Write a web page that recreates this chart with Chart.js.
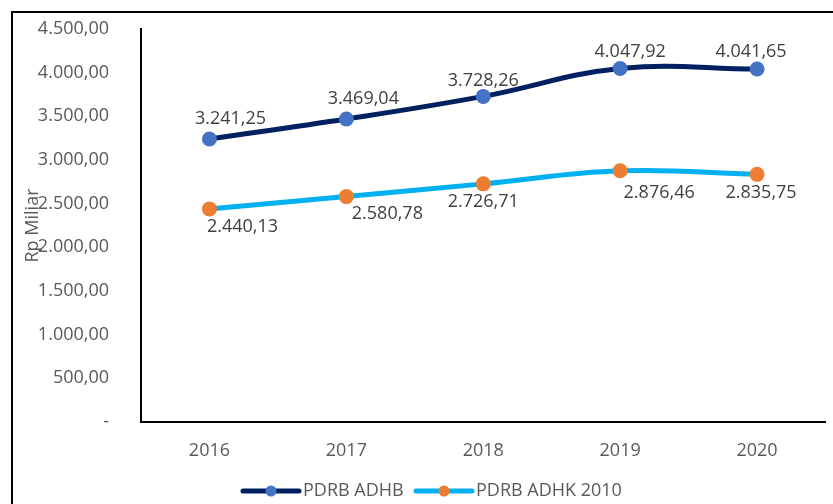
<!DOCTYPE html>
<html>
<head>
<meta charset="utf-8">
<script src="https://cdn.jsdelivr.net/npm/chart.js@4/dist/chart.umd.min.js"></script>
<style>
  html, body { margin: 0; padding: 0; background: #fff; }
  #wrap { width: 833px; height: 504px; }
</style>
</head>
<body>
<div id="wrap"><canvas id="c" width="833" height="504"></canvas></div>
<script>
const years = ['2016', '2017', '2018', '2019', '2020'];
const adhb = [3241.25, 3469.04, 3728.26, 4047.92, 4041.65];
const adhk = [2440.13, 2580.78, 2726.71, 2876.46, 2835.75];
const seriesNames = ['PDRB ADHB', 'PDRB ADHK 2010'];

// where Excel put each data label, relative to its point
const labelShift = [
  [[21, -20], [17, -20], [0, -16], [10, -17], [-6, -17]],
  [[33, 18], [41, 17], [0, 18], [39, 22], [4, 19]]
];

const FONT = '"Open Sans", "Liberation Sans", sans-serif';

function fmt(v) {
  if (v === 0) return '-';
  const parts = v.toFixed(2).split('.');
  return parts[0].replace(/\B(?=(\d{3})+(?!\d))/g, '.') + ',' + parts[1];
}

const extras = {
  id: 'extras',
  beforeDraw(chart) {
    const ctx = chart.ctx;
    ctx.save();
    ctx.strokeStyle = '#000';
    ctx.lineWidth = 2;
    ctx.beginPath();
    ctx.moveTo(12, 510);
    ctx.lineTo(12, 12);
    ctx.lineTo(840, 12);
    ctx.stroke();
    ctx.restore();
  },
  afterDatasetsDraw(chart) {
    const ctx = chart.ctx;
    ctx.save();
    ctx.font = '18px ' + FONT;
    ctx.fillStyle = '#404040';
    ctx.textAlign = 'center';
    ctx.textBaseline = 'middle';
    chart.data.datasets.forEach((ds, di) => {
      chart.getDatasetMeta(di).data.forEach((pt, i) => {
        const s = labelShift[di][i];
        ctx.fillText(fmt(ds.data[i]), pt.x + s[0], pt.y + s[1]);
      });
    });

    // legend
    const items = [
      { x: 243, ds: chart.data.datasets[0] },
      { x: 416, ds: chart.data.datasets[1] }
    ];
    const y = 491;
    ctx.textAlign = 'left';
    items.forEach(it => {
      ctx.strokeStyle = it.ds.borderColor;
      ctx.lineWidth = 5;
      ctx.lineCap = 'round';
      ctx.beginPath();
      ctx.moveTo(it.x, y);
      ctx.lineTo(it.x + 56, y);
      ctx.stroke();
      ctx.fillStyle = it.ds.pointBackgroundColor;
      ctx.beginPath();
      ctx.arc(it.x + 28, y, 5.5, 0, Math.PI * 2);
      ctx.fill();
      ctx.fillStyle = '#595959';
      ctx.fillText(it.ds.label, it.x + 60, y);
    });
    ctx.restore();
  }
};

new Chart(document.getElementById('c').getContext('2d'), {
  type: 'line',
  data: {
    labels: years,
    datasets: [
      {
        label: seriesNames[0],
        data: adhb,
        borderColor: '#002060',
        borderWidth: 5,
        pointBackgroundColor: '#4472C4',
        pointBorderColor: '#4472C4',
        pointBorderWidth: 0,
        pointRadius: 7.5,
        tension: 0.4
      },
      {
        label: seriesNames[1],
        data: adhk,
        borderColor: '#00B0F0',
        borderWidth: 5,
        pointBackgroundColor: '#ED7D31',
        pointBorderColor: '#ED7D31',
        pointBorderWidth: 0,
        pointRadius: 7.5,
        tension: 0.4
      }
    ]
  },
  options: {
    responsive: false,
    animation: false,
    layout: { padding: { left: 0, top: 29, right: 3, bottom: 0 } },
    plugins: {
      legend: { display: false },
      tooltip: { enabled: false }
    },
    scales: {
      x: {
        offset: true,
        grid: { display: false },
        border: { display: true, color: '#000', width: 2 },
        ticks: { color: '#595959', font: { family: FONT, size: 18 }, padding: 10 },
        afterFit: s => { s.height = 82; }
      },
      y: {
        min: 0,
        max: 4500,
        grid: { display: false },
        border: { display: true, color: '#000', width: 2 },
        ticks: {
          stepSize: 500,
          color: '#595959',
          font: { family: FONT, size: 18 },
          padding: 24,
          callback: v => fmt(v)
        },
        title: {
          display: true,
          text: 'Rp Miliar',
          color: '#595959',
          font: { family: FONT, size: 18 },
          padding: { top: 22, bottom: 0 }
        },
        afterFit: s => { s.width = 141; s.paddingTop = 0; s.paddingBottom = 0; }
      }
    }
  },
  plugins: [extras]
});
</script>
</body>
</html>
